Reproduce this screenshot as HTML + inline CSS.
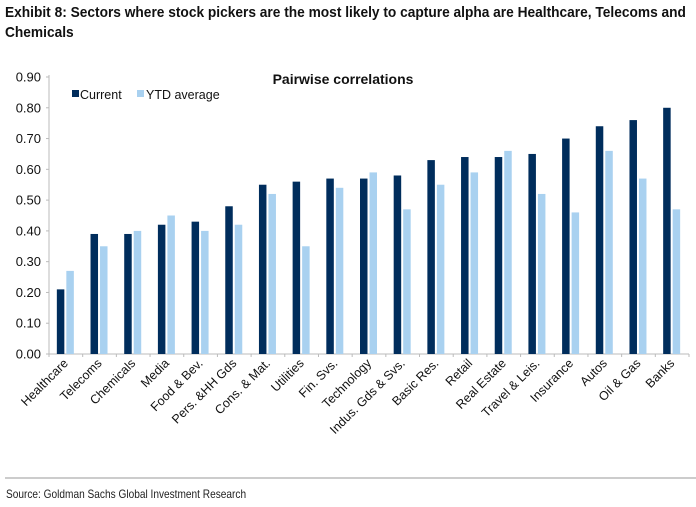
<!DOCTYPE html>
<html><head><meta charset="utf-8"><style>
body{margin:0;background:#fff;width:696px;height:507px;overflow:hidden;font-family:"Liberation Sans",Arial,sans-serif}
.title{position:absolute;left:5px;top:3px;font-weight:bold;font-size:15px;line-height:20px;color:#111;transform:scaleX(0.915);transform-origin:0 0;width:800px}
</style></head><body>
<div class="title">Exhibit 8: Sectors where stock pickers are the most likely to capture alpha are Healthcare, Telecoms and<br>Chemicals</div>
<svg id="c" width="696" height="507" style="position:absolute;left:0;top:0"></svg>
<script>
const categories=["Healthcare","Telecoms","Chemicals","Media","Food & Bev.","Pers. &HH Gds","Cons. & Mat.","Utilities","Fin. Svs.","Technology","Indus. Gds & Svs.","Basic Res.","Retail","Real Estate","Travel & Leis.","Insurance","Autos","Oil & Gas","Banks"];
const current=[0.21,0.39,0.39,0.42,0.43,0.48,0.55,0.56,0.57,0.57,0.58,0.63,0.64,0.64,0.65,0.70,0.74,0.76,0.80];
const ytdAverage=[0.27,0.35,0.40,0.45,0.40,0.42,0.52,0.35,0.54,0.59,0.47,0.55,0.59,0.66,0.52,0.46,0.66,0.57,0.47];
const yTicks=[0,0.1,0.2,0.3,0.4,0.5,0.6,0.7,0.8,0.9];
const NS="http://www.w3.org/2000/svg",svg=document.getElementById('c');
const X0=49,X1=689,Y0=354,Y9=77;
const band=(X1-X0)/categories.length;
const y=v=>Y0-(v/0.9)*(Y0-Y9);
const cx=i=>X0+band*(i+0.5);
function mk(t,a){const e=document.createElementNS(NS,t);for(const k in a)e.setAttribute(k,a[k]);svg.appendChild(e);return e;}
let ax=mk('line',{x1:X0,y1:Y9-2,x2:X0,y2:Y0,stroke:'#bbb'});


let bx=mk('line',{x1:X0,y1:Y0,x2:X1,y2:Y0,stroke:'#bbb'});


yTicks.forEach(v=>{
 mk('line',{x1:X0-3,x2:X0,y1:y(v),y2:y(v),stroke:'#bbb'});
 const t=mk('text',{x:X0-8,y:y(v)+4.5,'text-anchor':'end','font-size':13,fill:'#111'});t.textContent=v.toFixed(2);
 
 
});
for(let i=0;i<=categories.length;i++)mk('line',{x1:X0+band*i,x2:X0+band*i,y1:Y0,y2:Y0+3,stroke:'#bbb'});
categories.forEach((c,i)=>{
 const b1=mk('rect',{x:cx(i)-9,y:y(current[i]),width:7.5,height:Y0-y(current[i]),fill:'#002d5c'});
 
 
 const b2=mk('rect',{x:cx(i)+0.5,y:y(ytdAverage[i]),width:7.5,height:Y0-y(ytdAverage[i]),fill:'#a9d1f0'});
 
 
 const tx=cx(i)+3,ty=364;
 const t=mk('text',{x:tx,y:ty,'text-anchor':'end','font-size':12.5,fill:'#111',transform:`rotate(-45 ${tx} ${ty})`});t.textContent=c;
 
 
});
let pt=mk('text',{x:343,y:84,'text-anchor':'middle','font-size':14,'font-weight':'bold',fill:'#111'});pt.textContent='Pairwise correlations';


let l1=mk('rect',{x:72,y:90,width:7,height:7,fill:'#002d5c'});


let lt1=mk('text',{x:80,y:99,'font-size':12.5,fill:'#111'});lt1.textContent='Current';


let l2=mk('rect',{x:137,y:90,width:7,height:7,fill:'#a9d1f0'});


let lt2=mk('text',{x:146,y:99,'font-size':12.5,fill:'#111'});lt2.textContent='YTD average';


let sep=mk('line',{x1:5,x2:696,y1:478,y2:478,stroke:'#999'});


let src=mk('text',{x:6,y:498,'font-size':11.5,fill:'#222',transform:'translate(6 0) scale(0.88 1) translate(-6 0)'});src.textContent='Source: Goldman Sachs Global Investment Research';


</script>
</body></html>
